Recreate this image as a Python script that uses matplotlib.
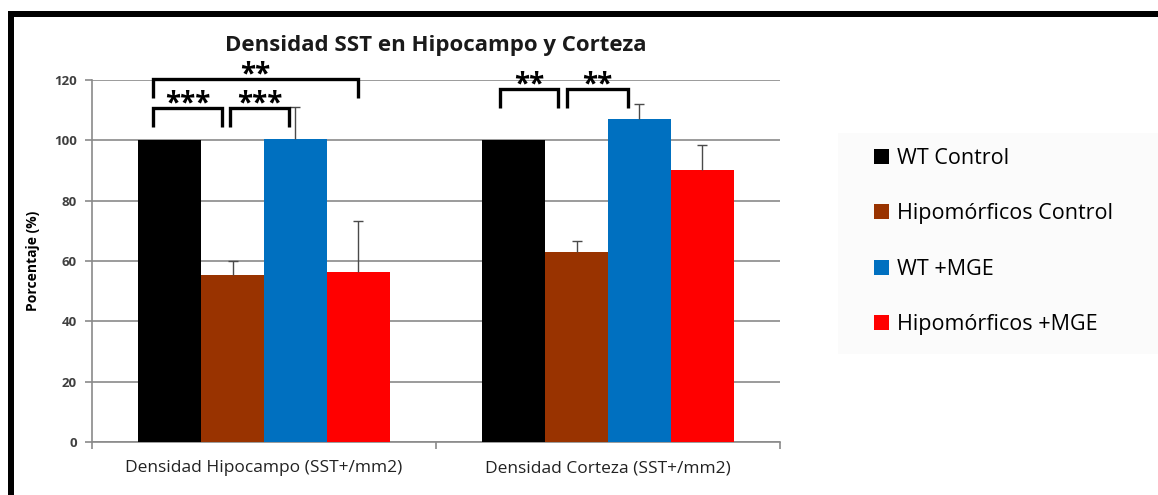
import matplotlib
matplotlib.use("Agg")
import matplotlib.pyplot as plt
from matplotlib.patches import Rectangle, Patch
import numpy as np

plt.rcParams['font.family'] = ['Open Sans', 'DejaVu Sans']

# ---- data ----
categories = ["Densidad Hipocampo (SST+/mm2)", "Densidad Corteza (SST+/mm2)"]
series = ["WT Control", "Hipomórficos Control", "WT +MGE", "Hipomórficos +MGE"]
colors = ["#000000", "#993300", "#0070C0", "#FF0000"]
wt_control = [100.0, 100.0]
hipo_control = [55.2, 63.0]
wt_mge = [100.5, 107.2]
hipo_mge = [56.4, 90.3]
err_wt_control = [0.0, 0.0]
err_hipo_control = [4.7, 3.7]
err_wt_mge = [10.7, 5.0]
err_hipo_mge = [17.0, 8.0]
yticks = [0, 20, 40, 60, 80, 100, 120]

# significance brackets: (group, left bar, right bar, bracket height, label,
#                         left/right end nudges in bar widths)
brackets = [
    (0, 0, 3, 120.3, "**", -0.27, 0.0),
    (0, 0, 1, 110.6, "***", -0.27, -0.17),
    (0, 1, 2, 110.6, "***", -0.04, -0.10),
    (1, 0, 1, 117.0, "**", -0.22, -0.29),
    (1, 1, 2, 117.0, "**", -0.15, -0.18),
]

values = [wt_control, hipo_control, wt_mge, hipo_mge]
errors = [err_wt_control, err_hipo_control, err_wt_mge, err_hipo_mge]

W, H = 1158, 495
fig = plt.figure(figsize=(W / 100, H / 100), dpi=100)
fig.patch.set_facecolor("white")

# outer frame: thick top rule and left rule
fig.patches.append(Rectangle((8 / W, 0), 6 / W, 1 - 11 / H, transform=fig.transFigure,
                             facecolor="black", edgecolor="none", zorder=5))
fig.patches.append(Rectangle((8 / W, 1 - 17 / H), 1 - 8 / W, 6 / H, transform=fig.transFigure,
                             facecolor="black", edgecolor="none", zorder=5))
# legend panel background
fig.patches.append(Rectangle((838 / W, 1 - 354 / H), (W - 838) / W, (354 - 133) / H,
                             transform=fig.transFigure, facecolor="#fbfbfb",
                             edgecolor="none", zorder=0))

ax = fig.add_axes([92 / W, 1 - 442 / H, (780 - 92) / W, (442 - 80) / H])
ax.set_facecolor("white")

x = np.arange(len(categories))
group_width = 0.73
bw = group_width / len(series)
offsets = (np.arange(len(series)) - (len(series) - 1) / 2) * bw

for k, (vals, errs, col, name) in enumerate(zip(values, errors, colors, series)):
    pos = x + offsets[k]
    ax.bar(pos, vals, width=bw, color=col, label=name, zorder=3)
    for p, v, e in zip(pos, vals, errs):
        if e <= 0:
            continue
        _, caps, _ = ax.errorbar(p, v, yerr=[[0], [e]], fmt="none", ecolor="#4a4a4a",
                                 elinewidth=1.0, capsize=3.5, capthick=1.0, zorder=4)
        caps[0].set_visible(False)

ax.set_xlim(-0.5, len(categories) - 0.5)
ax.set_ylim(0, 120)
ax.set_yticks(yticks)
ax.set_yticklabels([str(t) for t in yticks], fontsize=9.5, color="#404040", fontweight="bold")
ax.yaxis.grid(True, color="#8a8a8a", linewidth=1.2, zorder=0)
ax.set_axisbelow(True)

ax.set_xticks(x)
ax.set_xticklabels(categories, fontsize=12.5, color="#222222")
ax.set_xticks(np.arange(len(categories) + 1) - 0.5, minor=True)
ax.tick_params(axis="x", which="major", length=0, pad=13)
ax.tick_params(axis="x", which="minor", length=5, color="#8a8a8a", width=1.2)
ax.tick_params(axis="y", length=5, color="#8a8a8a", width=1.2, pad=6)

for side in ["top", "right"]:
    ax.spines[side].set_visible(False)
for side in ["left", "bottom"]:
    ax.spines[side].set_color("#8a8a8a")
    ax.spines[side].set_linewidth(1.2)

ax.set_ylabel("Porcentaje (%)", fontsize=10, fontweight="bold", labelpad=10)
ax.set_title("Densidad SST en Hipocampo y Corteza", fontsize=16, fontweight="bold",
             color="#1a1a1a", pad=21)

# significance brackets
drop = 6.3
for g, i, j, yb, lab, nl, nr in brackets:
    xl = x[g] + offsets[i] + nl * bw
    xr = x[g] + offsets[j] + nr * bw
    ax.plot([xl, xl, xr, xr], [yb - drop, yb, yb, yb - drop], color="black",
            linewidth=2.4, solid_joinstyle="miter", solid_capstyle="butt",
            clip_on=False, zorder=6)
    ax.text((xl + xr) / 2, yb - 3.5, lab, ha="center", va="bottom", fontsize=20,
            fontweight="bold", color="black", clip_on=False, zorder=6)

handles = [Patch(facecolor=c, edgecolor="none") for c in colors]
fig.legend(handles, series, loc="center left",
           bbox_to_anchor=(874 / W, 1 - ((157 + 322) / 2 + 2) / H),
           frameon=False, fontsize=15.5, labelspacing=1.6, handlelength=0.7,
           handleheight=0.7, handletextpad=0.37, borderpad=0, borderaxespad=0)

fig.savefig("out.png", dpi=100)
